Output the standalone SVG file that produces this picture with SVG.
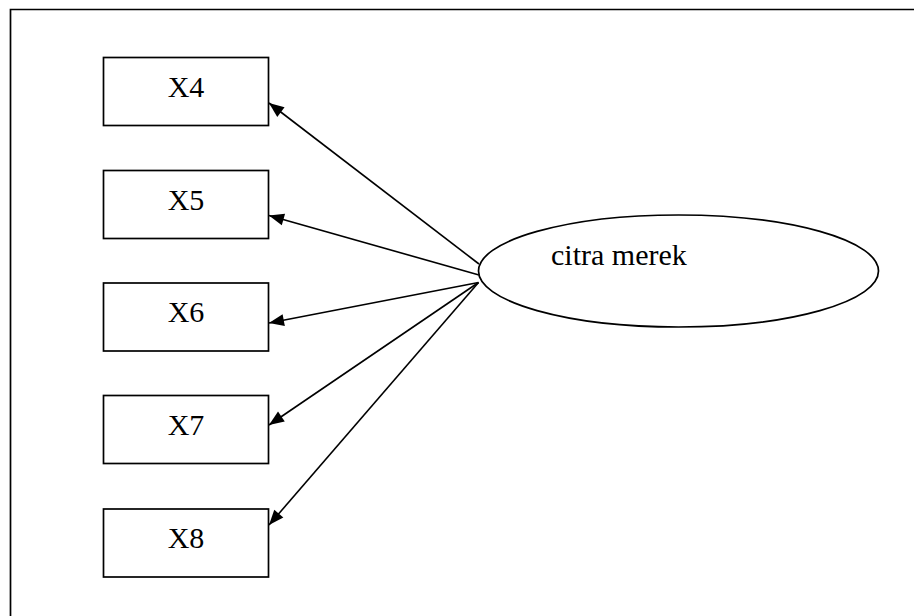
<svg xmlns="http://www.w3.org/2000/svg" width="914" height="616" viewBox="0 0 914 616">
<style>
.box{fill:#fff;stroke:#000;stroke-width:1.7}
.lbl{font-family:"Liberation Serif","Times New Roman",serif;font-size:30px;fill:#000}
.conn{stroke:#000;stroke-width:1.6;fill:none;marker-end:url(#ah)}
</style>
<defs>
<marker id="ah" markerUnits="userSpaceOnUse" markerWidth="18" markerHeight="16" viewBox="-16 -8 17 16" refX="0" refY="0" orient="auto">
<path d="M0,0 L-15,-6 L-15,6 Z" fill="#000"/>
</marker>
</defs>
<rect width="914" height="616" fill="#fff"/>
<path d="M10.5,616 L10.5,9.5 L914,9.5" fill="none" stroke="#000" stroke-width="1.7"/>
<g id="connectors">
<line class="conn" x1="479" y1="264" x2="269" y2="103"/>
<line class="conn" x1="479" y1="275" x2="269" y2="215.5"/>
<line class="conn" x1="478.5" y1="282.5" x2="269" y2="323"/>
<line class="conn" x1="478.5" y1="282.5" x2="269" y2="425"/>
<line class="conn" x1="478.5" y1="282.5" x2="269" y2="525"/>
</g>
<g id="X4"><rect class="box" x="103.5" y="57.5" width="165" height="68"/><text class="lbl" x="186" y="96.5" text-anchor="middle">X4</text></g>
<g id="X5"><rect class="box" x="103.5" y="170.5" width="165" height="68"/><text class="lbl" x="186" y="209.5" text-anchor="middle">X5</text></g>
<g id="X6"><rect class="box" x="103.5" y="283" width="165" height="68"/><text class="lbl" x="186" y="322" text-anchor="middle">X6</text></g>
<g id="X7"><rect class="box" x="103.5" y="395.5" width="165" height="68"/><text class="lbl" x="186" y="434.5" text-anchor="middle">X7</text></g>
<g id="X8"><rect class="box" x="103.5" y="509" width="165" height="68"/><text class="lbl" x="186" y="548" text-anchor="middle">X8</text></g>
<g id="citra_merek"><ellipse cx="678.5" cy="271" rx="200" ry="56" fill="#fff" stroke="#000" stroke-width="1.7"/><text class="lbl" x="551" y="265">citra merek</text></g>
</svg>
